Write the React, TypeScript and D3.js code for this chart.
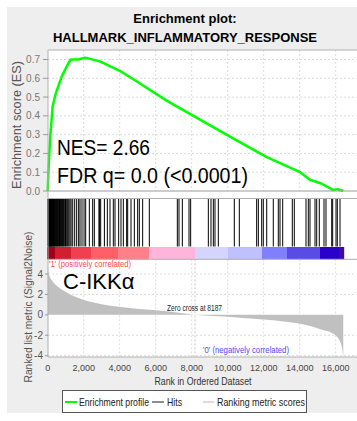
import * as d3 from 'd3';

// running enrichment score
const esRank = [0, 40, 90, 150, 275, 450, 780, 1150, 1280, 1700, 2070, 2900, 4000, 5000, 6630, 8460, 10300, 12170, 14020, 14570, 15200, 15870, 16100, 16420];
const esScore = [0, 0.1, 0.2, 0.3, 0.45, 0.52, 0.61, 0.68, 0.7, 0.7, 0.71, 0.69, 0.64, 0.58, 0.48, 0.38, 0.28, 0.18, 0.1, 0.06, 0.04, 0.005, 0.01, 0];

// ranked list metric (Signal2Noise)
const metricRank = [0, 60, 150, 311, 600, 1055, 1500, 1980, 3000, 3830, 4800, 5680, 6610, 7500, 8187, 9200, 10340, 11300, 12190, 13100, 14040, 15150, 15870, 16100, 16240, 16350, 16420];
const metricValue = [4.6, 4.0, 3.6, 3.2, 2.7, 2.2, 1.8, 1.47, 1.05, 0.82, 0.62, 0.49, 0.35, 0.15, 0, -0.12, -0.23, -0.36, -0.49, -0.66, -0.88, -1.4, -1.86, -2.2, -2.6, -3.2, -4.2];

// gene set hits
const hitRanks = [
  10, 25, 45, 60, 80, 95, 115, 135, 150, 170, 195, 215, 230, 255, 280, 300, 320, 345, 370, 395,
  420, 450, 475, 505, 530, 560, 590, 625, 655, 690, 720, 760, 795, 830, 870, 905, 950, 990, 1030,
  1085, 1130, 1180, 1240, 1300, 1390, 1500, 1610, 1720, 1796, 1905, 2020, 2110,
  2313, 2498, 2591, 2850, 2870, 2943, 3150, 3313, 3461, 3646, 3739, 3942, 4072, 4202, 4387, 4443,
  4628, 4813, 4998, 5090, 5276, 5646, 7202, 7294, 7480, 7850, 7942, 8924, 9072, 9202, 9294, 9480,
  10368, 10646, 11609, 11702, 11889, 11978, 12167, 12533, 12811, 12906, 13056, 13589, 13700,
  14350, 14478, 14572, 14850, 14944, 15089, 15350, 15461, 15778, 15833, 16017, 16089, 16239
];

const listSize = 16420;
const zeroCross = 8187;
const xTicks = [0, 2000, 4000, 6000, 8000, 10000, 12000, 14000, 16000];
const esTicks = [0, 0.1, 0.2, 0.3, 0.4, 0.5, 0.6, 0.7];
const metricTicks = [-4, -2, 0, 2, 4];

const metricBreaks = [-2.5, -1.4, -0.7, -0.45, -0.2, 0, 0.5, 0.8, 1.3, 2, 3];
const barColors = ['#400aa0', '#2a00cc', '#5a4ae6', '#8080ff', '#c0c0ff', '#d4d4ff', '#ffb4dc', '#ff8088', '#ff6068', '#f04050', '#d02030', '#a00018'];

const font = 'Liberation Sans, Arial, sans-serif';

export default function App() {
  const W = 357, H = 421;
  const left = 48;
  const x = d3.scaleLinear().domain([0, 16000]).range([47.7, 335.7]);
  const yES = d3.scaleLinear().domain([0, 0.7]).range([191, 59.5]);
  const yM = d3.scaleLinear().domain([-4, 4]).range([355.7, 274]);
  const metricAt = d3.scaleLinear().domain(metricRank).range(metricValue);
  const barColor = d3.scaleThreshold<number, string>().domain(metricBreaks).range(barColors);

  const esLine = d3.line<number>()
    .x((_, i) => x(esRank[i]))
    .y(d => yES(d));

  const metricArea = d3.area<number>()
    .x((_, i) => x(metricRank[i]))
    .y0(yM(0))
    .y1(d => yM(d))
    .curve(d3.curveMonotoneX);

  const cols = d3.range(Math.floor(x(0)), Math.ceil(x(listSize)));
  const hitTop = 199, hitBottom = 246.5, barTop = 247, barBottom = 259.3;
  const esTop = 50, mBottom = 357;
  const zeroLabel = `Zero cross at ${zeroCross}`;

  return (
    <div style={{ position: 'absolute', left: 0, top: 0 }}>
      <svg width={W} height={H} style={{ display: 'block', fontFamily: font }}>
        <rect x={0} y={0} width={W} height={H} fill="#fff" />
        <rect x={7} y={7} width={W - 7} height={406} fill="#eeeeee" />

        {/* title */}
        <text x={185} y={22.5} textAnchor="middle" fontSize={13} fontWeight="bold" fill="#000">Enrichment plot:</text>
        <text x={185} y={41.5} textAnchor="middle" fontSize={13} fontWeight="bold" fill="#000">HALLMARK_INFLAMMATORY_RESPONSE</text>

        {/* plot background */}
        <rect x={left} y={esTop} width={W - left} height={mBottom - esTop} fill="#fff" />

        {/* ES grid */}
        {esTicks.filter(t => t > 0).map(t => (
          <line key={'eg' + t} x1={left} x2={W} y1={yES(t)} y2={yES(t)} stroke="#dcdcdc" strokeDasharray="2,2" />
        ))}
        {xTicks.filter(t => t > 0).map(t => (
          <line key={'evg' + t} x1={x(t)} x2={x(t)} y1={esTop} y2={yES(0)} stroke="#dcdcdc" strokeDasharray="2,2" />
        ))}

        {/* metric grid */}
        {metricTicks.filter(t => t !== 0).map(t => (
          <line key={'mg' + t} x1={left} x2={W} y1={yM(t)} y2={yM(t)} stroke="#dcdcdc" strokeDasharray="2,2" />
        ))}
        {xTicks.filter(t => t > 0).map(t => (
          <line key={'mvg' + t} x1={x(t)} x2={x(t)} y1={barBottom} y2={mBottom} stroke="#dcdcdc" strokeDasharray="2,2" />
        ))}

        {/* metric area */}
        <path d={metricArea(metricValue) || ''} fill="#c0c0c0" />
        <line x1={x(zeroCross)} x2={x(zeroCross)} y1={barBottom} y2={mBottom} stroke="#c8c8c8" strokeDasharray="2,2" />

        {/* hits */}
        {hitRanks.map((r, i) => (
          <line key={'h' + i} x1={x(r)} x2={x(r)} y1={hitTop} y2={hitBottom} stroke="#000" strokeWidth={1} />
        ))}

        {/* colour bar */}
        {cols.map(px => (
          <rect key={'c' + px} x={px} y={barTop} width={1.2} height={barBottom - barTop}
            fill={barColor(metricAt(x.invert(px + 0.5)))} />
        ))}

        {/* ES curve */}
        <path d={esLine(esScore) || ''} fill="none" stroke="#00ff00" strokeWidth={2.5} strokeLinejoin="round" />

        {/* frames */}
        <line x1={left} x2={W} y1={esTop} y2={esTop} stroke="#b0b0b0" />
        <line x1={left} x2={W} y1={yES(0)} y2={yES(0)} stroke="#999" />
        <line x1={left} x2={W} y1={hitTop - 0.5} y2={hitTop - 0.5} stroke="#b0b0b0" />
        <line x1={left} x2={W} y1={barBottom} y2={barBottom} stroke="#b0b0b0" />
        <line x1={left} x2={W} y1={mBottom} y2={mBottom} stroke="#b0b0b0" />
        <line x1={left} x2={left} y1={esTop} y2={mBottom} stroke="#b0b0b0" />

        {/* ES axis */}
        {esTicks.map(t => (
          <g key={'et' + t}>
            <line x1={left - 5} x2={left} y1={yES(t)} y2={yES(t)} stroke="#999" />
            <text x={40} y={yES(t) + 3.5} textAnchor="end" fontSize={10} fill="#777">{d3.format('.1f')(t)}</text>
          </g>
        ))}
        <text transform={`translate(21,125) rotate(-90)`} textAnchor="middle" fontSize={12} fill="#555"
          textLength={128} lengthAdjust="spacingAndGlyphs">Enrichment score (ES)</text>

        {/* metric axis */}
        {metricTicks.map(t => (
          <g key={'mt' + t}>
            <line x1={left - 3} x2={left} y1={yM(t)} y2={yM(t)} stroke="#999" />
            <text x={43} y={yM(t) + 3.5} textAnchor="end" fontSize={10} fill="#555">{t}</text>
          </g>
        ))}
        <text transform={`translate(32,307) rotate(-90)`} textAnchor="middle" fontSize={11} fill="#555"
          textLength={151} lengthAdjust="spacingAndGlyphs">Ranked list metric (Signal2Noise)</text>

        {/* x axis */}
        {xTicks.map(t => (
          <text key={'xt' + t} x={x(t)} y={370.5} textAnchor="middle" fontSize={9} fill="#444">{d3.format(',')(t)}</text>
        ))}
        <text x={203} y={385} textAnchor="middle" fontSize={10.5} fill="#333"
          textLength={97} lengthAdjust="spacingAndGlyphs">Rank in Ordered Dataset</text>

        {/* annotations */}
        <text x={57} y={155} fontSize={22} fill="#000" textLength={93} lengthAdjust="spacingAndGlyphs">NES= 2.66</text>
        <text x={57} y={183} fontSize={22} fill="#000" textLength={191} lengthAdjust="spacingAndGlyphs">FDR q= 0.0 (&lt;0.0001)</text>
        <text x={63} y={289} fontSize={22} fill="#000">C-IKKα</text>
        <text x={49} y={267} fontSize={8.5} fill="#ff4a4a" textLength={82} lengthAdjust="spacingAndGlyphs">'1' (positively correlated)</text>
        <text x={203} y={353} fontSize={8.5} fill="#4a4aff" textLength={86} lengthAdjust="spacingAndGlyphs">'0' (negatively correlated)</text>
        <text x={167} y={310.5} fontSize={8.5} fill="#222" textLength={55} lengthAdjust="spacingAndGlyphs">{zeroLabel}</text>

        {/* legend */}
        <rect x={62.5} y={390.5} width={244} height={22} fill="#fff" stroke="#555" />
        <line x1={65} x2={77} y1={402} y2={402} stroke="#00ff00" strokeWidth={2} />
        <text x={79} y={406} fontSize={10.5} fill="#222" textLength={70} lengthAdjust="spacingAndGlyphs">Enrichment profile</text>
        <line x1={152} x2={164} y1={402} y2={402} stroke="#444" strokeWidth={1.2} />
        <text x={167} y={406} fontSize={10.5} fill="#222" textLength={15} lengthAdjust="spacingAndGlyphs">Hits</text>
        <line x1={203} x2={214} y1={402} y2={402} stroke="#d0d0d0" strokeWidth={1.5} />
        <text x={217} y={406} fontSize={10.5} fill="#222" textLength={88} lengthAdjust="spacingAndGlyphs">Ranking metric scores</text>
      </svg>
    </div>
  );
}
